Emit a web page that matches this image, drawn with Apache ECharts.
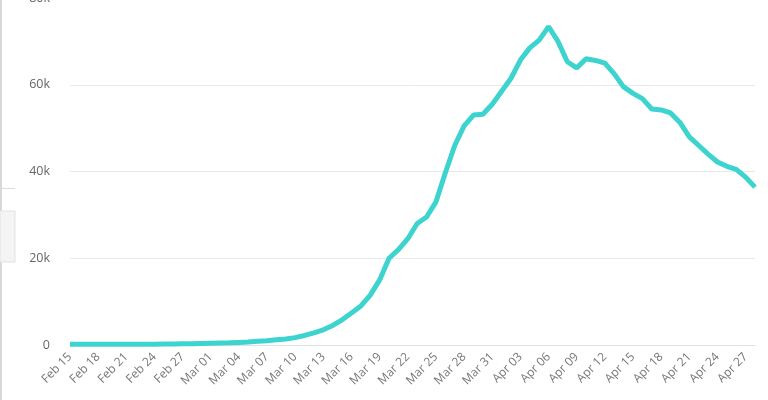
<!DOCTYPE html>
<html><head><meta charset="utf-8">
<script src="https://cdn.jsdelivr.net/npm/echarts@6/dist/echarts.min.js"></script>
<style>html,body{margin:0;padding:0;background:#fff}#c{width:768px;height:400px}</style>
</head><body><div id="c"></div>
<script>
const startDate = [2020, 1, 15];
const values = [
 200,200,200,200,200,200,200,200,200,200,250,250,300,300,350,
 400,450,500,600,700,
 850,1000,1200,1400,1700,
 2200,2800,3500,4500,5800,
 7400,9000,11500,15000,20000,
 22000,24500,28000,29500,33000,
 39700,46000,50500,53000,53200,
 55500,58500,61500,65700,68500,
 70300,73400,70000,65300,63900,
 66000,65600,65000,62500,59500,
 58000,56800,54400,54200,53500,
 51300,48000,46000,44000,42200,
 41200,40500,38700,36400
];
const monthNames = ['Jan','Feb','Mar','Apr','May'];
const categories = values.map((v,i)=>{
  const d = new Date(startDate[0], startDate[1], startDate[2]+i);
  return monthNames[d.getMonth()] + ' ' + String(d.getDate()).padStart(2,'0');
});
const chart = echarts.init(document.getElementById('c'));
chart.setOption({
  animation:false,
  grid:{left:70,right:13,top:-2,bottom:55,containLabel:false,outerBoundsMode:'none'},
  graphic:[
    {type:'rect',shape:{x:0,y:0,width:2,height:400},style:{fill:'#d8d8d8'}},
    {type:'rect',shape:{x:0,y:188,width:15,height:1},style:{fill:'#dcdcdc'}},
    {type:'rect',shape:{x:0,y:211,width:15,height:51},style:{fill:'#f4f4f4',stroke:'#e2e2e2',lineWidth:1}}
  ],
  xAxis:{type:'category',data:categories,boundaryGap:false,
    axisLine:{lineStyle:{color:'#dde0e6'}},axisTick:{show:false},
    axisLabel:{interval:2,rotate:45,color:'#777',fontSize:12,fontFamily:'Open Sans',margin:10}},
  yAxis:{type:'value',min:0,max:80000,interval:20000,
    axisLine:{show:false},axisTick:{show:false},
    splitLine:{lineStyle:{color:'#e8e8e8'}},
    axisLabel:{color:'#666',fontSize:12.5,fontFamily:'Open Sans',margin:20,
      formatter:v=>v===0?'0':(v/1000)+'k'}},
  series:[{type:'line',data:values,showSymbol:false,smooth:false,
    lineStyle:{color:'#3dd3cf',width:5},itemStyle:{color:'#3dd3cf'}}]
});
</script></body></html>
